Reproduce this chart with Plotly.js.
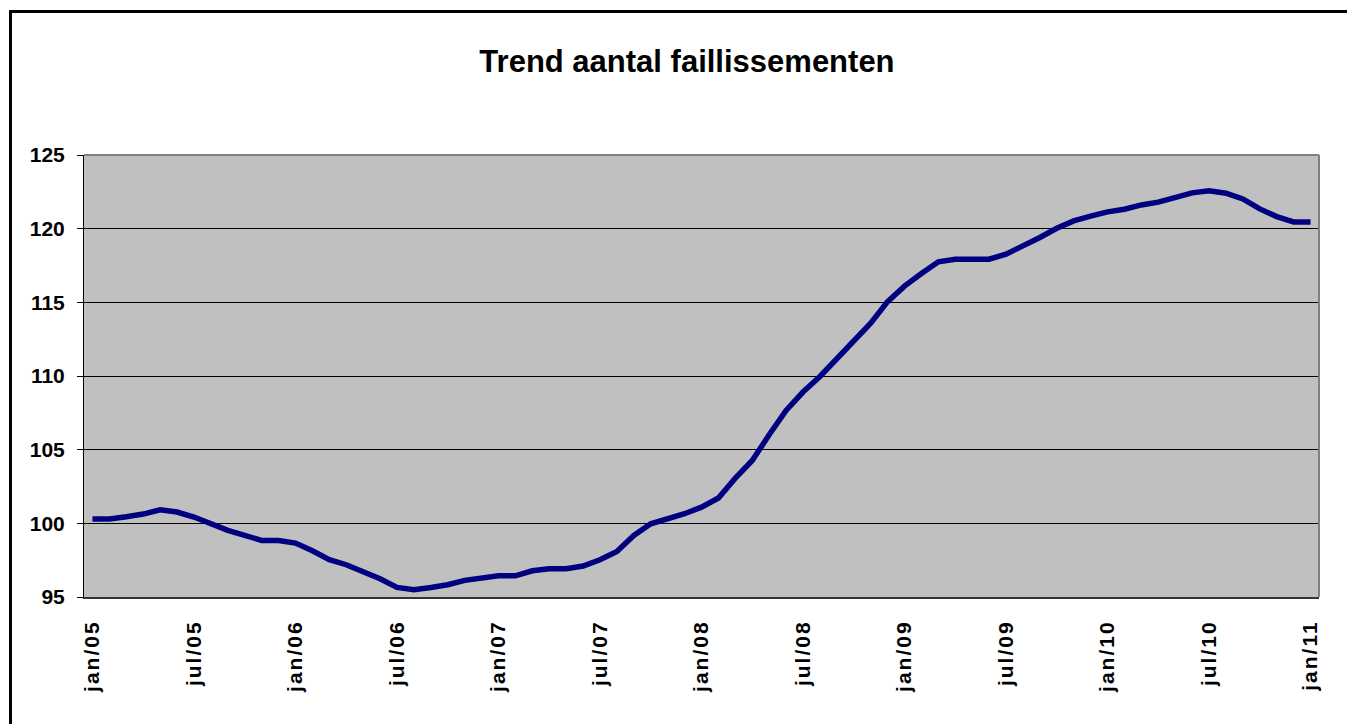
<!DOCTYPE html>
<html><head><meta charset="utf-8">
<script src="https://cdn.plot.ly/plotly-3.0.1.min.js"></script>
<style>
html,body{margin:0;padding:0;background:#fff;}
#wrap{position:relative;width:1347px;height:724px;overflow:hidden;}
#chart{width:1347px;height:724px;}
#frame{position:absolute;left:9px;top:10px;width:2000px;height:2000px;border-top:3px solid #000;border-left:3px solid #000;pointer-events:none;}
.xtick text{letter-spacing:2px;}
</style></head><body>
<div id="wrap"><div id="chart"></div><div id="frame"></div></div>
<script>
const monthNames = ['jan','feb','mrt','apr','mei','jun','jul','aug','sep','okt','nov','dec'];
const yearLabels = ['05','06','07','08','09','10','11'];
const categories = [];
yearLabels.forEach(function (yr, yi) {
  monthNames.forEach(function (m, mi) {
    if (yi < yearLabels.length - 1 || mi === 0) categories.push(m + '/' + yr);
  });
});
const trendValues = [
  100.3, 100.3, 100.45, 100.63, 100.92, 100.77, 100.43, 99.97, 99.52, 99.18, 98.84, 98.84,
  98.66, 98.14, 97.53, 97.19, 96.74, 96.24, 95.65, 95.5, 95.65, 95.83, 96.13, 96.29,
  96.44, 96.44, 96.78, 96.92, 96.92, 97.1, 97.53, 98.09, 99.18, 99.97, 100.29, 100.65,
  101.1, 101.72, 103.07, 104.27, 106.01, 107.66, 108.91, 109.97, 111.17, 112.41, 113.59, 115.05,
  116.1, 116.95, 117.75, 117.93, 117.93, 117.93, 118.27, 118.79, 119.4, 120.03, 120.53, 120.85,
  121.14, 121.32, 121.61, 121.8, 122.14, 122.43, 122.57, 122.41, 122.02, 121.34, 120.82, 120.46,
  120.46
];
const tickLabels = categories.filter(function (c, i) { return i % 6 === 0; });
const yTickValues = [95, 100, 105, 110, 115, 120, 125];

const boundaryTicks = tickLabels.map(function (c) { return categories.indexOf(c) - 0.5; });
const nCat = categories.length;
const fontFam = '"Liberation Sans", Arial, sans-serif';

const trace = {
  type: 'scatter', mode: 'lines',
  x: categories, y: trendValues,
  line: {color: '#000080', width: 5.5},
  hoverinfo: 'x+y', showlegend: false
};

const layout = {
  width: 1347, height: 724,
  margin: {l: 84, r: 28, t: 155, b: 127},
  paper_bgcolor: '#ffffff',
  plot_bgcolor: '#c0c0c0',
  showlegend: false,
  title: {
    text: 'Trend aantal faillissementen',
    font: {family: fontFam, size: 31, weight: 'bold', color: '#000'},
    x: 0.51, xref: 'container', xanchor: 'center',
    y: 0.915, yref: 'container', yanchor: 'middle'
  },
  xaxis: {
    type: 'category',
    range: [-0.5, nCat - 0.5],
    tickmode: 'array', tickvals: tickLabels, ticktext: tickLabels,
    tickangle: -90,
    ticks: '',
    ticklabelstandoff: 13,
    tickfont: {family: fontFam, size: 21, weight: 'bold', color: '#000'},
    showgrid: false, zeroline: false,
    showline: true, linecolor: '#333', linewidth: 2,
    fixedrange: true
  },
  xaxis2: {
    type: 'linear', overlaying: 'x', anchor: 'y', side: 'bottom',
    range: [-0.5, nCat - 0.5],
    tickmode: 'array', tickvals: boundaryTicks,
    ticks: 'outside', ticklen: 6, tickwidth: 1, tickcolor: '#000',
    showticklabels: false, showgrid: false, zeroline: false, showline: false,
    fixedrange: true
  },
  yaxis: {
    range: [95, 125],
    tickmode: 'array', tickvals: yTickValues,
    ticks: 'outside', ticklen: 6, tickwidth: 1, tickcolor: '#000',
    ticklabelstandoff: 8,
    tickfont: {family: fontFam, size: 21, weight: 'bold', color: '#000'},
    showgrid: true, gridcolor: '#000', gridwidth: 1,
    zeroline: false,
    showline: true, linecolor: '#000', linewidth: 1,
    fixedrange: true
  },
  shapes: [
    {type: 'line', xref: 'paper', yref: 'paper', x0: 0, x1: 1, y0: 1, y1: 1, line: {color: '#808080', width: 2}},
    {type: 'line', xref: 'paper', yref: 'paper', x0: 1, x1: 1, y0: 0, y1: 1, line: {color: '#808080', width: 2}}
  ]
};

Plotly.newPlot('chart', [trace], layout, {displayModeBar: false, responsive: false});
</script>
</body></html>
